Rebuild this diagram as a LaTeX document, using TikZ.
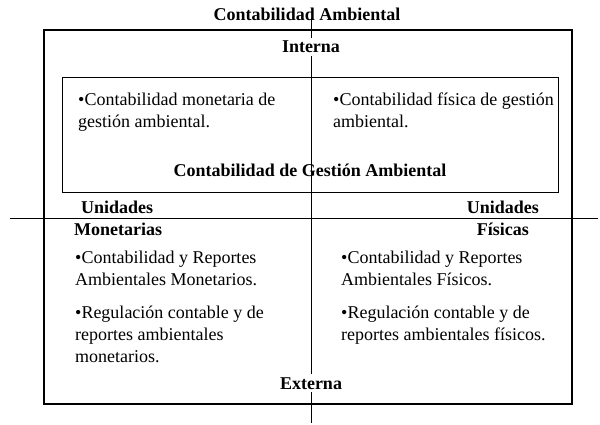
\documentclass[tikz,border=0pt]{standalone}
\usepackage{fontspec}
\setmainfont{Liberation Serif}
\begin{document}
\begin{tikzpicture}[x=1pt,y=-1pt,
  txt/.style={anchor=base west,inner sep=0pt,font=\fontsize{18}{22}\selectfont,align=left},
  hd/.style={anchor=base,inner sep=1pt,font=\fontsize{18}{22}\selectfont\bfseries},
  gap/.style={hd,fill=white,inner sep=3pt}]
\useasboundingbox (0,0) rectangle (600,425);
% lines
\coordinate (vt) at (311,18);
\coordinate (vb) at (311,423);
\coordinate (hl) at (10,218);
\coordinate (hr) at (598,218);
\draw[line width=0.8pt] (vt) -- (vb);
\draw[line width=0.8pt] (hl) -- (hr);
\node[draw,line width=2pt,minimum width=528,minimum height=374,anchor=north west,inner sep=0pt] (outer) at (43,29) {};
\node[draw,line width=0.8pt,minimum width=496,minimum height=115,anchor=north west,inner sep=0pt] (inner) at (62,77) {};
% headings
\node[hd] (title) at (307,21) {Contabilidad Ambiental};
\node[gap] (interna) at (311,53) {Interna};
\node[gap] (externa) at (311,389) {Externa};
\node[hd] (cga) at (310,177) {Contabilidad de Gestión Ambiental};
\node[hd,anchor=base west] (u1) at (80,213) {Unidades};
\node[hd,anchor=base west] (m1) at (73,235) {Monetarias};
\node[hd,anchor=base east] (u2) at (540,213) {Unidades};
\node[hd,anchor=base east] (f2) at (530,235) {Físicas};
% body text (base = baseline of last line)
\node[txt] (t1) at (78,128) {•Contabilidad monetaria de\\gestión ambiental.};
\node[txt] (t2) at (333,128) {•Contabilidad física de gestión\\ambiental.};
\node[txt] (t3) at (75,285) {•Contabilidad y Reportes\\Ambientales Monetarios.};
\node[txt] (t4) at (75,362) {•Regulación contable y de\\reportes ambientales\\monetarios.};
\node[txt] (t5) at (341,285) {•Contabilidad y Reportes\\Ambientales Físicos.};
\node[txt] (t6) at (341,340) {•Regulación contable y de\\reportes ambientales físicos.};
\end{tikzpicture}
\end{document}
